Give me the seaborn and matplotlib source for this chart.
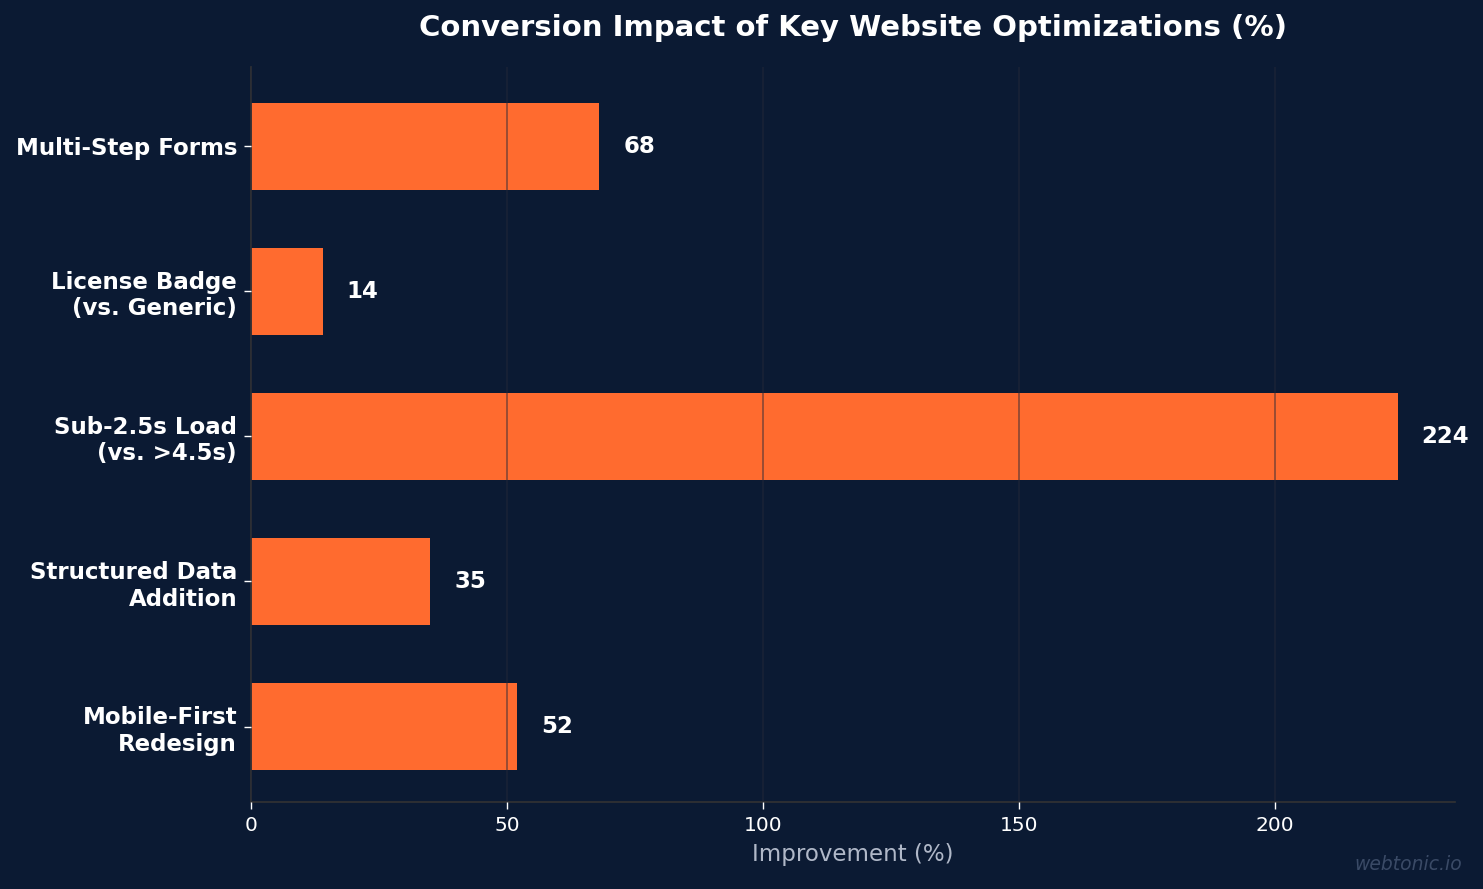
import matplotlib
matplotlib.use("Agg")
import matplotlib.pyplot as plt
import seaborn as sns
import pandas as pd

categories = ["Multi-Step Forms", "License Badge\n(vs. Generic)", "Sub-2.5s Load\n(vs. >4.5s)",
              "Structured Data\nAddition", "Mobile-First\nRedesign"]
values = [68, 14, 224, 35, 52]
x_ticks = [0, 50, 100, 150, 200]

BG = "#0B1A33"
BAR = "#FF6B2F"

sns.set_theme(style="dark")
plt.rcParams["font.family"] = ["DejaVu Sans"]

fig = plt.figure(figsize=(14.83, 8.89), dpi=100, facecolor=BG)
ax = fig.add_axes([251/1483, 1-802/889, (1455-251)/1483, (802-67)/889])
ax.set_facecolor(BG)

df = pd.DataFrame({"cat": categories, "val": values})
sns.barplot(data=df, y="cat", x="val", orient="h", color=BAR, saturation=1,
            width=0.6, linewidth=0, edgecolor="none", ax=ax)

ax.set_xlim(0, max(values) * 1.05)
ax.set_ylim(len(values) - 0.48, -0.545)
ax.set_xticks(x_ticks)

ax.set_axisbelow(False)
ax.grid(axis="x", color="#252838", alpha=0.55, linewidth=1.2)
ax.grid(axis="y", visible=False)

for s in ["top", "right"]:
    ax.spines[s].set_visible(False)
for s in ["left", "bottom"]:
    ax.spines[s].set_visible(True)
    ax.spines[s].set_color("#333333")
    ax.spines[s].set_linewidth(1.2)

ax.tick_params(axis="x", colors="white", labelsize=14.5, length=5, width=1, direction="out",
               bottom=True, pad=5)
ax.tick_params(axis="y", colors="white", labelsize=16.5, length=5, width=1, direction="out",
               left=True, pad=5)
for lbl in ax.get_yticklabels():
    lbl.set_fontweight("bold")

ax.set_ylabel("")
ax.set_xlabel("Improvement (%)", color="#B0B8C8", fontsize=16.5, labelpad=6)
ax.set_title("Conversion Impact of Key Website Optimizations (%)", color="white",
             fontsize=21, fontweight="bold", pad=22)

off = max(values) * 0.021
for i, v in enumerate(values):
    ax.text(v + off, i, f"{v}", color="white", fontsize=16.5, fontweight="bold",
            ha="left", va="center")

fig.text(1462/1483, 1-864/889, "webtonic.io", color="#3A4A66", fontsize=13.5,
         style="italic", ha="right", va="center")

fig.savefig("out.png", dpi=100, facecolor=BG)
